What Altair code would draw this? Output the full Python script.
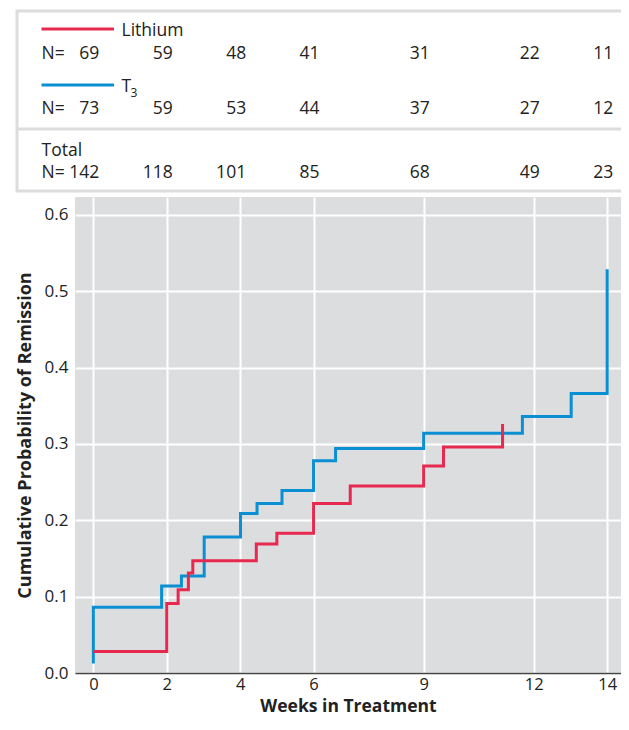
import altair as alt
import pandas as pd

# ---- data ----
series_names = ["T3", "Lithium"]
series_colors = ["#0A8FD2", "#E8294F"]

lithium_weeks = [0, 2.0, 2.31, 2.59, 2.71, 4.44, 5.0, 6.0, 7.0, 9.0, 9.54, 11.15]
lithium_prob = [0.028, 0.091, 0.109, 0.131, 0.147, 0.169, 0.183, 0.222, 0.245, 0.271, 0.296, 0.326]

t3_weeks = [0, 0, 1.86, 2.40, 3.02, 4.01, 4.46, 5.14, 6.0, 6.6, 9.0, 11.69, 13.02, 14.0]
t3_prob = [0.0125, 0.086, 0.114, 0.127, 0.178, 0.209, 0.222, 0.239, 0.278, 0.294, 0.314, 0.336, 0.366, 0.529]

risk_weeks = [0, 2, 4, 6, 9, 12, 14]
lithium_n = [69, 59, 48, 41, 31, 22, 11]
t3_n = [73, 59, 53, 44, 37, 27, 12]
total_n = [142, 118, 101, 85, 68, 49, 23]

x_ticks = [0, 2, 4, 6, 9, 12, 14]
y_ticks = [0.0, 0.1, 0.2, 0.3, 0.4, 0.5, 0.6]

FONT = "Open Sans"
TXT = "#222222"

# ---- tables built from the lists ----
rows = []
for i, (w, p) in enumerate(zip(t3_weeks, t3_prob)):
    rows.append({"series": "T3", "week": w, "prob": p, "i": i})
for i, (w, p) in enumerate(zip(lithium_weeks, lithium_prob)):
    rows.append({"series": "Lithium", "week": w, "prob": p, "i": i})
curves = pd.DataFrame(rows)

x_scale = alt.Scale(domain=[-0.5, 14.377], nice=False, zero=False)
y_scale = alt.Scale(domain=[0, 0.6235], nice=False, zero=True)

lines = alt.Chart(curves).mark_line(interpolate="step-after", strokeWidth=3).encode(
    x=alt.X("week:Q", scale=x_scale,
            axis=alt.Axis(values=x_ticks, title="Weeks in Treatment", format="d",
                          labelPadding=3, titlePadding=5, domain=True,
                          labelFontSize=16.5, titleFontSize=17.5,
                          domainColor="#444444", domainWidth=1.5)),
    y=alt.Y("prob:Q", scale=y_scale,
            axis=alt.Axis(values=y_ticks, format=".1f",
                          title="Cumulative Probability of Remission",
                          labelPadding=7, titlePadding=10, domain=False)),
    color=alt.Color("series:N", scale=alt.Scale(domain=series_names, range=series_colors),
                    legend=None),
    order=alt.Order("i:Q"),
)

# ---- at-risk table above the plot ----
def count_row(counts, y):
    df = pd.DataFrame({"week": risk_weeks, "n": counts})
    return alt.Chart(df).mark_text(align="right", baseline="alphabetic", dx=6,
                                   font=FONT, fontSize=17.5, color=TXT).encode(
        x="week:Q", y=alt.value(y), text="n:Q")

def label(text, x, y, size=17.5, weight="normal"):
    return alt.Chart(pd.DataFrame({"t": [text]})).mark_text(
        align="left", baseline="alphabetic", font=FONT, fontSize=size,
        fontWeight=weight, color=TXT).encode(
        x=alt.value(x), y=alt.value(y), text="t:N")

def hline(x1, x2, y, color, width):
    return alt.Chart(pd.DataFrame({"k": [0]})).mark_rule(
        color=color, strokeWidth=width).encode(
        x=alt.value(x1), x2=alt.value(x2), y=alt.value(y))

box = alt.Chart(pd.DataFrame({"k": [0]})).mark_rect(
    fill=None, stroke="#DCDCDC", strokeWidth=3).encode(
    x=alt.value(-58), x2=alt.value(570), y=alt.value(-186), y2=alt.value(-6))

table = [
    box,
    hline(-58, 570, -68, "#DCDCDC", 3),
    hline(-33.5, 39, -168, series_colors[1], 3),
    hline(-33.5, 39, -112, series_colors[0], 3),
    label("Lithium", 46.5, -161.5),
    label("T", 46.5, -105),
    label("3", 55.5, -100.5, size=12),
    label("Total", -33.5, -41.5),
    label("N=", -33.5, -138.5),
    label("N=", -33.5, -83),
    label("N=", -33.5, -19.5),
    count_row(lithium_n, -138.5),
    count_row(t3_n, -83),
    count_row(total_n, -19.5),
]

chart = alt.layer(lines, *table).properties(
    width=546, height=476,
    autosize=alt.AutoSizeParams(type="none"),
    padding={"left": 67, "top": 189, "right": 0, "bottom": 44},
).configure_view(fill="#DCDDDF", stroke=None).configure_axis(
    labelFont=FONT, labelFontSize=17, labelColor=TXT,
    titleFont=FONT, titleFontSize=18, titleFontWeight="bold", titleColor=TXT,
    ticks=False, grid=True, gridColor="#FFFFFF", gridWidth=2, gridOpacity=1,
).configure_text(font=FONT)

chart.save("out.html", embed_options={"renderer": "svg", "actions": False})
